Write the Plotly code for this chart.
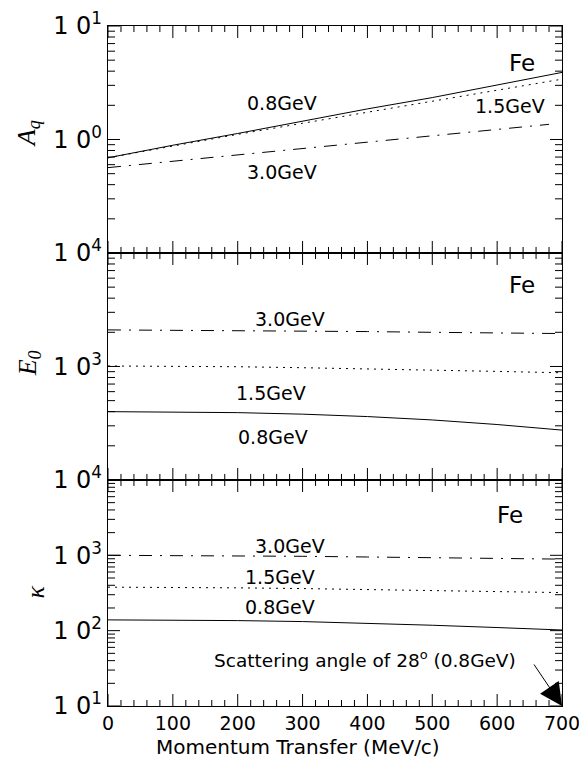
import math
import plotly.graph_objects as go

# ---- data ----
q = [0, 100, 200, 300, 400, 500, 600, 700]
q_aq30 = [0, 100, 200, 300, 400, 500, 600, 680]

aq_08 = [0.69, 0.89, 1.13, 1.45, 1.86, 2.34, 3.02, 3.9]
aq_15 = [0.69, 0.88, 1.11, 1.39, 1.74, 2.17, 2.72, 3.4]
aq_30 = [0.565, 0.643, 0.733, 0.834, 0.949, 1.08, 1.23, 1.36]

e0_30 = [2100, 2090, 2070, 2050, 2030, 2000, 1980, 1950]
e0_15 = [1010, 1005, 995, 975, 955, 930, 905, 880]
e0_08 = [400, 398, 392, 380, 362, 338, 308, 275]

k_30 = [1000, 995, 985, 970, 950, 930, 910, 890]
k_15 = [378, 376, 370, 362, 352, 342, 331, 320]
k_08 = [139, 138, 136, 132, 126, 118, 110, 102]

x_major = [0, 100, 200, 300, 400, 500, 600, 700]
x_minor = [v for v in range(20, 700, 20) if v % 100 != 0]

FONT = "DejaVu Sans"
DOT = "2px,5px"
DASHDOT = "13px,8px,2px,8px"

W, H = 571, 758
ML, MR, MT, MB = 100, 17, 18, 60
PW, PH = W - ML - MR, H - MT - MB

domains = {1: [0.6662, 1.0], 2: [0.3324, 0.6662], 3: [0.0, 0.3324]}

fig = go.Figure()

def line(x, y, dash, k):
    fig.add_trace(go.Scatter(x=x, y=y, mode="lines",
                             line=dict(color="black", width=1, dash=dash),
                             xaxis="x%d" % k, yaxis="y%d" % k,
                             showlegend=False, hoverinfo="skip"))

line(q, aq_08, "solid", 1)
line(q, aq_15, DOT, 1)
line(q_aq30, aq_30, DASHDOT, 1)
line(q, e0_30, DASHDOT, 2)
line(q, e0_15, DOT, 2)
line(q, e0_08, "solid", 2)
line(q, k_30, DASHDOT, 3)
line(q, k_15, DOT, 3)
line(q, k_08, "solid", 3)

def lab(p):
    return "1 0<sup>%d</sup>" % p

def minors(lo, hi):
    vals = []
    for d in range(lo, hi):
        for m in range(2, 10):
            vals.append(m * 10 ** d)
    return vals

ycfg = {
    1: dict(range=[-1, 1], tickvals=[0.1, 1, 10], ticktext=[" ", lab(0), lab(1)]),
    2: dict(range=[2, 4], tickvals=[100, 1000, 10000], ticktext=[" ", lab(3), lab(4)]),
    3: dict(range=[1, 4], tickvals=[10, 100, 1000, 10000],
            ticktext=[lab(1), lab(2), lab(3), lab(4)]),
}

layout = {}
shapes = []
TK = dict(color="black", width=1)

def tick_shape(x0, y0, x1, y1):
    shapes.append(dict(type="line", xref="paper", yref="paper",
                       x0=x0, y0=y0, x1=x1, y1=y1, line=TK, layer="above"))

for k in (1, 2, 3):
    c = ycfg[k]
    lo, hi = c["range"]
    d0, d1 = domains[k]
    layout["xaxis%d" % k] = dict(
        domain=[0, 1], anchor="y%d" % k, range=[0, 700],
        tickmode="array", tickvals=x_major, ticktext=[str(v) for v in x_major],
        ticks="", showline=True, linecolor="black", linewidth=1.3, mirror=True,
        showgrid=False, zeroline=False, automargin=False,
        showticklabels=(k == 3), ticklabeloverflow="allow",
        tickfont=dict(family=FONT, size=19, color="black"))
    layout["yaxis%d" % k] = dict(
        domain=[d0, d1], anchor="x%d" % k, type="log", range=[lo, hi],
        tickmode="array", tickvals=c["tickvals"], ticktext=c["ticktext"],
        ticks="", showline=True, linecolor="black", linewidth=1.3, mirror=True,
        showgrid=False, zeroline=False, automargin=False,
        tickfont=dict(family=FONT, size=24, color="black"))

    # x ticks (inside, bottom and top of the panel), derived from tick values
    for vals, ln in [(x_major, 12), (x_minor, 6)]:
        for v in vals:
            xp = v / 700.0
            tick_shape(xp, d0, xp, d0 + ln / PH)
            tick_shape(xp, d1, xp, d1 - ln / PH)
    # y ticks (inside, left and right), log positions from tick values
    for vals, ln in [(c["tickvals"], 12), (minors(int(lo), int(hi)), 7)]:
        for v in vals:
            yp = d0 + (math.log10(v) - lo) / (hi - lo) * (d1 - d0)
            tick_shape(0, yp, ln / PW, yp)
            tick_shape(1, yp, 1 - ln / PW, yp)

ann = []
def txt(x, y, s, xref, yref, size=19):
    ann.append(dict(x=x, y=y, xref=xref, yref=yref, text=s, showarrow=False,
                    font=dict(family=FONT, size=size, color="black")))

# panel 1
txt(638, 0.671, "Fe", "x1", "y1", 23)
txt(268, 0.319, "0.8GeV", "x1", "y1")
txt(620, 0.293, "1.5GeV", "x1", "y1")
txt(268, -0.286, "3.0GeV", "x1", "y1")
# panel 2
txt(638, 3.718, "Fe", "x2", "y2", 23)
txt(281, 3.419, "3.0GeV", "x2", "y2")
txt(252, 2.769, "1.5GeV", "x2", "y2")
txt(254, 2.382, "0.8GeV", "x2", "y2")
# panel 3
txt(620, 3.535, "Fe", "x3", "y3", 23)
txt(281, 3.124, "3.0GeV", "x3", "y3")
txt(265, 2.716, "1.5GeV", "x3", "y3")
txt(265, 2.318, "0.8GeV", "x3", "y3")
txt(396, 1.62, "Scattering angle of 28<sup>o</sup> (0.8GeV)", "x3", "y3", 18.5)

ann.append(dict(x=700, y=1, xref="x3", yref="y3", ax=-29, ay=-43, text="",
                showarrow=True, arrowhead=2, arrowsize=4.5, arrowwidth=1,
                arrowcolor="black", standoff=0))

SERIF = "Liberation Serif"
for x, y, s in [(-0.176, 0.841, "<i>A<sub>q</sub></i>"),
                (-0.174, 0.504, "<i>E<sub>0</sub></i>"),
                (-0.159, 0.168, "<i>κ</i>")]:
    ann.append(dict(x=x, y=y, xref="paper", yref="paper", text=s, showarrow=False,
                    textangle=-90, font=dict(family=SERIF, size=26, color="black"),
                    xanchor="center", yanchor="middle"))

ann.append(dict(x=0.419, y=-0.060, xref="paper", yref="paper",
                text="Momentum Transfer (MeV/c)", showarrow=False,
                font=dict(family=FONT, size=20, color="black"),
                xanchor="center", yanchor="middle"))

fig.update_layout(
    width=W, height=H,
    margin=dict(l=ML, r=MR, t=MT, b=MB),
    paper_bgcolor="white", plot_bgcolor="white",
    annotations=ann, shapes=shapes,
    showlegend=False,
    **layout,
)

fig.write_html("out.html")
